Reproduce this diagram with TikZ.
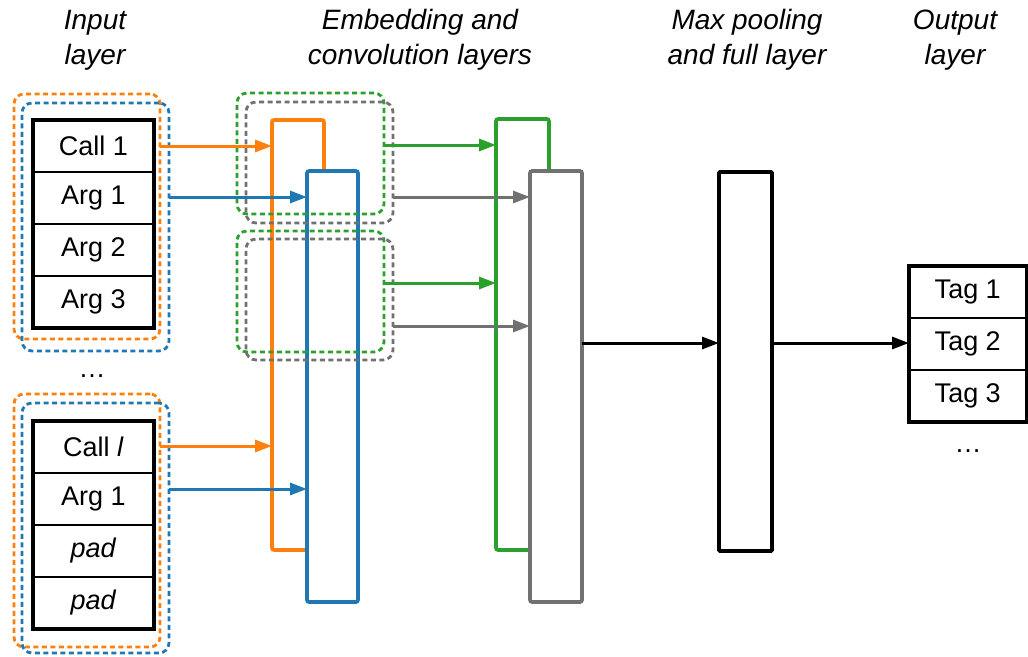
\documentclass[tikz,border=0pt]{standalone}
\usepackage{fontspec}
\setmainfont{Liberation Sans}
\usetikzlibrary{arrows.meta}
\definecolor{corange}{HTML}{FF7F0E}
\definecolor{cblue}{HTML}{1F77B4}
\definecolor{cgreen}{HTML}{2CA02C}
\definecolor{cgrey}{HTML}{717171}
\tikzset{
  cell/.style={draw=black, line width=2.8pt, fill=white, minimum width=121pt, minimum height=52pt, inner sep=0pt, outer sep=0pt, font=\fontsize{27pt}{31pt}\selectfont},
  tagcell/.style={cell, minimum width=117.5pt},
  dashbox/.style={draw=#1, line width=2.8pt, dash pattern=on 5pt off 3.5pt, rounded corners=10pt, minimum width=147pt, inner sep=0pt, outer sep=0pt},
  layerbox/.style={draw=#1, line width=3.6pt, fill=white, rounded corners=2pt, inner sep=0pt, outer sep=0pt},
  conn/.style={draw=#1, line width=3pt, -{Triangle[length=17pt,width=12pt]}},
  title/.style={align=center, font=\fontsize{28pt}{35pt}\selectfont\itshape, inner sep=0pt},
  dots/.style={font=\fontsize{27pt}{31pt}\selectfont, inner sep=0pt}
}
\begin{document}
\begin{tikzpicture}[x=1pt, y=-1pt]
\useasboundingbox (0,0) rectangle (1028,656);

% titles
\node[title] (t1) at (95,40) {Input\\layer};
\node[title] (t2) at (420,40) {Embedding and\\convolution layers};
\node[title] (t3) at (747,40) {Max pooling\\and full layer};
\node[title] (t4) at (955,40) {Output\\layer};

% input groups (dashed)
\node[dashbox=corange, minimum width=146pt, minimum height=245pt] (od1) at (87,216.5) {};
\node[dashbox=cblue, minimum height=248pt] (bd1) at (95.5,227) {};
\node[dashbox=corange, minimum width=146pt, minimum height=253pt] (od2) at (87,520.5) {};
\node[dashbox=cblue, minimum height=250pt] (bd2) at (95.5,528) {};

% input cells
\node[cell] (c11) at (93.5,146) {Call 1};
\node[cell] (c12) at (93.5,198) {Arg 1};
\node[cell] (c13) at (93.5,250) {Arg 2};
\node[cell] (c14) at (93.5,302) {Arg 3};
\draw[line width=3.4pt] (c11.north west) rectangle (c14.south east);
\node[dots] (d1) at (92,376) {…};
\node[cell] (c21) at (93.5,447) {Call \textit{l}};
\node[cell] (c22) at (93.5,499) {Arg 1};
\node[cell] (c23) at (93.5,551) {\textit{pad}};
\node[cell] (c24) at (93.5,603) {\textit{pad}};
\draw[line width=3.4pt] (c21.north west) rectangle (c24.south east);

% embedding layers
\node[layerbox=corange, minimum width=52pt, minimum height=430pt] (orect) at (298,335) {};
\node[layerbox=cblue, minimum width=51pt, minimum height=431pt] (brect) at (332.5,386.5) {};

% convolution windows
\node[dashbox=cgreen, minimum height=121pt] (gd1) at (310.5,153.5) {};
\node[dashbox=cgrey, minimum height=121pt] (kd1) at (319.5,162.5) {};
\node[dashbox=cgreen, minimum height=121pt] (gd2) at (310.5,291.5) {};
\node[dashbox=cgrey, minimum height=121pt] (kd2) at (319.5,299.5) {};

% convolution layers
\node[layerbox=cgreen, minimum width=53pt, minimum height=431pt] (grect) at (522.5,334.5) {};
\node[layerbox=cgrey, minimum width=52pt, minimum height=431pt] (krect) at (556,386.5) {};

% max pooling
\node[layerbox=black, rounded corners=1pt, minimum width=53pt, minimum height=379pt] (mrect) at (745.5,361.5) {};

% output
\node[tagcell] (o1) at (967.75,292) {Tag 1};
\node[tagcell] (o2) at (967.75,344) {Tag 2};
\node[tagcell] (o3) at (967.75,396) {Tag 3};
\draw[line width=3.2pt] (o1.north west) rectangle (o3.south east);
\node[dots] (d2) at (968,451) {…};

% level coordinates
\coordinate (y1) at (0,146);
\coordinate (y2) at (0,197);
\coordinate (y3) at (0,446);
\coordinate (y4) at (0,489);
\coordinate (y5) at (0,145);
\coordinate (y6) at (0,197);
\coordinate (y7) at (0,283);
\coordinate (y8) at (0,326);
\coordinate (y9) at (0,343);

% connectors
\draw[conn=corange] (od1.east |- y1) -- (orect.west |- y1);
\draw[conn=cblue] (bd1.east |- y2) -- (brect.west |- y2);
\draw[conn=corange] (od2.east |- y3) -- (orect.west |- y3);
\draw[conn=cblue] (bd2.east |- y4) -- (brect.west |- y4);
\draw[conn=cgreen] (gd1.east |- y5) -- (grect.west |- y5);
\draw[conn=cgrey] (kd1.east |- y6) -- (krect.west |- y6);
\draw[conn=cgreen] (gd2.east |- y7) -- (grect.west |- y7);
\draw[conn=cgrey] (kd2.east |- y8) -- (krect.west |- y8);
\draw[conn=black] (krect.east |- y9) -- (mrect.west |- y9);
\draw[conn=black] (mrect.east |- y9) -- (o2.west |- y9);
\end{tikzpicture}
\end{document}
